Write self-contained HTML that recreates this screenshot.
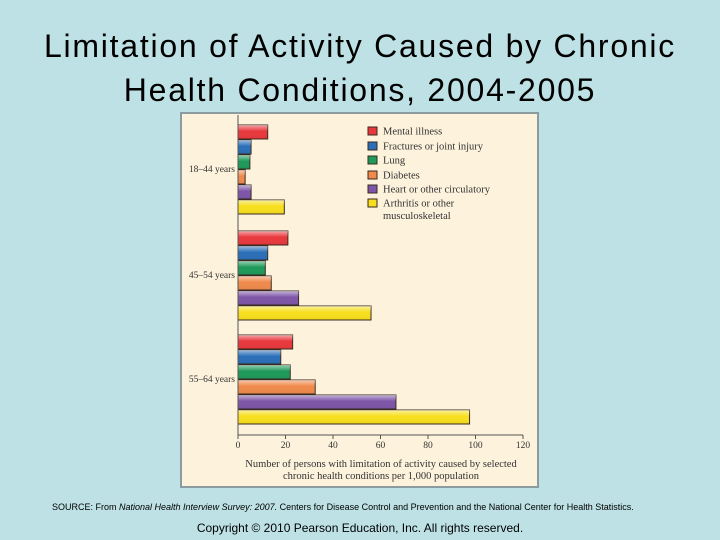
<!DOCTYPE html>
<html><head><meta charset="utf-8"><style>
html,body{margin:0;padding:0}
body{width:720px;height:540px;background:#bde1e4;position:relative;overflow:hidden;font-family:"Liberation Sans",sans-serif}
.title{position:absolute;left:0;width:720px;text-align:center;font-size:32px;letter-spacing:1.75px;color:#000;line-height:44px;top:24px}
.src{position:absolute;left:52px;top:502px;font-size:9px;color:#000;white-space:nowrap}
.copy{position:absolute;left:0;width:720px;text-align:center;top:521px;font-size:12px;color:#000}
</style></head><body>
<div class="title">Limitation of Activity Caused by Chronic<br>Health Conditions, 2004-2005</div>
<svg id="chart" width="720" height="540" style="position:absolute;left:0;top:0">
<defs>
<linearGradient id="sh" x1="0" y1="0" x2="0" y2="1">
<stop offset="0" stop-color="#fff" stop-opacity="0.55"/><stop offset="0.45" stop-color="#fff" stop-opacity="0"/><stop offset="1" stop-color="#000" stop-opacity="0.05"/>
</linearGradient>
</defs>
<rect x="181" y="113" width="357" height="374" fill="#fdf2dc" stroke="#8b9ba0" stroke-width="2"/>
</svg>
<div class="src">SOURCE: From <i>National Health Interview Survey: 2007.</i> Centers for Disease Control and Prevention and the National Center for Health Statistics.</div>
<div class="copy">Copyright © 2010 Pearson Education, Inc. All rights reserved.</div>
<script>
const groups = ["18–44 years","45–54 years","55–64 years"];
const seriesNames = ["Mental illness","Fractures or joint injury","Lung","Diabetes","Heart or other circulatory","Arthritis or other musculoskeletal"];
const mental = [12.5, 21, 23];
const fractures = [5.5, 12.5, 18];
const lung = [5, 11.5, 22];
const diabetes = [3, 14, 32.5];
const heart = [5.5, 25.5, 66.5];
const arthritis = [19.5, 56, 97.5];
const ticks = [0,20,40,60,80,100,120];
const colors = ["#e8383d","#2a6fb8","#1e9a5a","#ef8a4c","#7e55a8","#f7df1e"];
const series=[mental,fractures,lung,diabetes,heart,arthritis];
const NS="http://www.w3.org/2000/svg";
const svg=document.getElementById('chart');
const X0=238,X1=523,xmax=120;
const x=v=>X0+(v/xmax)*(X1-X0);
const groupTop=[125,231,335], step=15, bh=14;
function mk(t,a){const e=document.createElementNS(NS,t);for(const k in a)e.setAttribute(k,a[k]);svg.appendChild(e);return e;}
groups.forEach((g,gi)=>{
  series.forEach((s,si)=>{
    const y=groupTop[gi]+si*step;
    const r=mk('rect',{x:X0,y:y,width:x(s[gi])-X0,height:bh,fill:colors[si],stroke:'#3a2a20','stroke-width':1});
    
    
    const o=mk('rect',{x:X0,y:y,width:x(s[gi])-X0,height:bh,fill:'url(#sh)'});
    
    
  });
  const t=mk('text',{x:235,y:groupTop[gi]+3*step+2,'text-anchor':'end','font-family':'Liberation Serif, serif','font-size':9.5,fill:'#333'});
  t.textContent=g;
  
  
});
const ax=mk('line',{x1:X0,y1:115,x2:X0,y2:435,stroke:'#555','stroke-width':1});


const bx=mk('line',{x1:X0,y1:435,x2:X1,y2:435,stroke:'#555','stroke-width':1});


ticks.forEach(v=>{
  const tl=mk('line',{x1:x(v),y1:435,x2:x(v),y2:439,stroke:'#555'});
  
  
  const tt=mk('text',{x:x(v),y:448,'text-anchor':'middle','font-family':'Liberation Serif, serif','font-size':9.5,fill:'#333'});
  tt.textContent=v;
  
  
});
["Number of persons with limitation of activity caused by selected","chronic health conditions per 1,000 population"].forEach((l,i)=>{
  const t=mk('text',{x:381,y:467+i*12,'text-anchor':'middle','font-family':'Liberation Serif, serif','font-size':10.5,fill:'#333'});
  t.textContent=l;
  
  
});
const legY=[131,146,160,175,189,203];
seriesNames.forEach((n,i)=>{
  const b=mk('rect',{x:368,y:legY[i]-4,width:9,height:8,fill:colors[i],stroke:'#3a2a20'});
  
  
  const t=mk('text',{x:383,y:legY[i]+3.5,'font-family':'Liberation Serif, serif','font-size':10.5,fill:'#333'});
  if(i===5){t.textContent='Arthritis or other';
    const t2=mk('text',{x:383,y:legY[i]+16,'font-family':'Liberation Serif, serif','font-size':10.5,fill:'#333'});
    t2.textContent='musculoskeletal';
    
    
  } else t.textContent=n;
  
  
});
</script>
</body></html>
